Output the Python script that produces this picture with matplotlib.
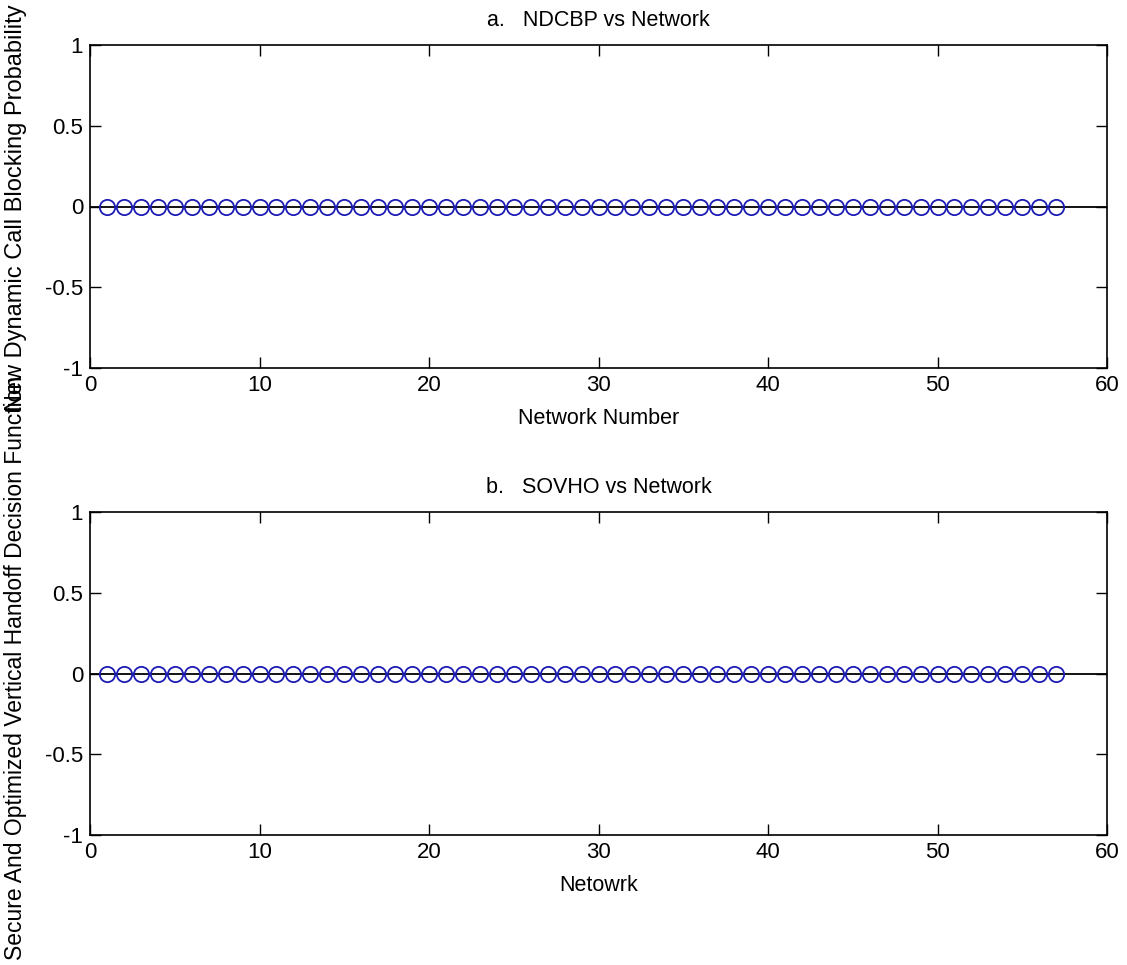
import matplotlib
matplotlib.use("Agg")
import matplotlib.pyplot as plt
import numpy as np

plt.rcParams['font.family'] = ['Liberation Sans', 'DejaVu Sans']

networks = list(range(1, 58))
ndcbp = [0] * 57
sovho = [0] * 57

titles = ["a.   NDCBP vs Network", "b.   SOVHO vs Network"]
xlabels = ["Network Number", "Netowrk"]
ylabels = ["New Dynamic Call Blocking Probability",
           "Secure And Optimized Vertical Handoff Decision Function"]
series = [ndcbp, sovho]

fig = plt.figure(figsize=(11.27, 9.65), dpi=100)
W, H = 1127, 965
boxes = [(90, 45, 1107, 368), (90, 512, 1107, 835)]
for i, (l, t, r, b) in enumerate(boxes):
    ax = fig.add_axes([l / W, 1 - b / H, (r - l) / W, (b - t) / H])
    ax.axhline(0, color='black', lw=1.3, zorder=1)
    ax.plot(networks, series[i], linestyle='none', marker='o', markersize=11,
            markerfacecolor='none', markeredgecolor='#1c1cb4', markeredgewidth=1.3, zorder=2)
    ax.set_xlim(0, 60)
    ax.set_ylim(-1, 1)
    ax.set_xticks([0, 10, 20, 30, 40, 50, 60])
    ax.set_yticks([-1, -0.5, 0, 0.5, 1])
    ax.set_yticklabels(['-1', '-0.5', '0', '0.5', '1'])
    ax.tick_params(direction='in', top=True, right=True, length=8, width=1,
                   labelsize=16, pad=5)
    for s in ax.spines.values():
        s.set_linewidth(1.2)
    ax.set_title(titles[i], fontsize=15.5, pad=14)
    ax.set_xlabel(xlabels[i], fontsize=15.5, labelpad=9)

fig.text(16 / W, 1 - 208 / H, ylabels[0], rotation=90, ha='center', va='center', fontsize=17)
fig.text(16 / W, 1 - 668 / H, ylabels[1], rotation=90, ha='center', va='center', fontsize=16.5)

fig.savefig("out.png", dpi=100)
